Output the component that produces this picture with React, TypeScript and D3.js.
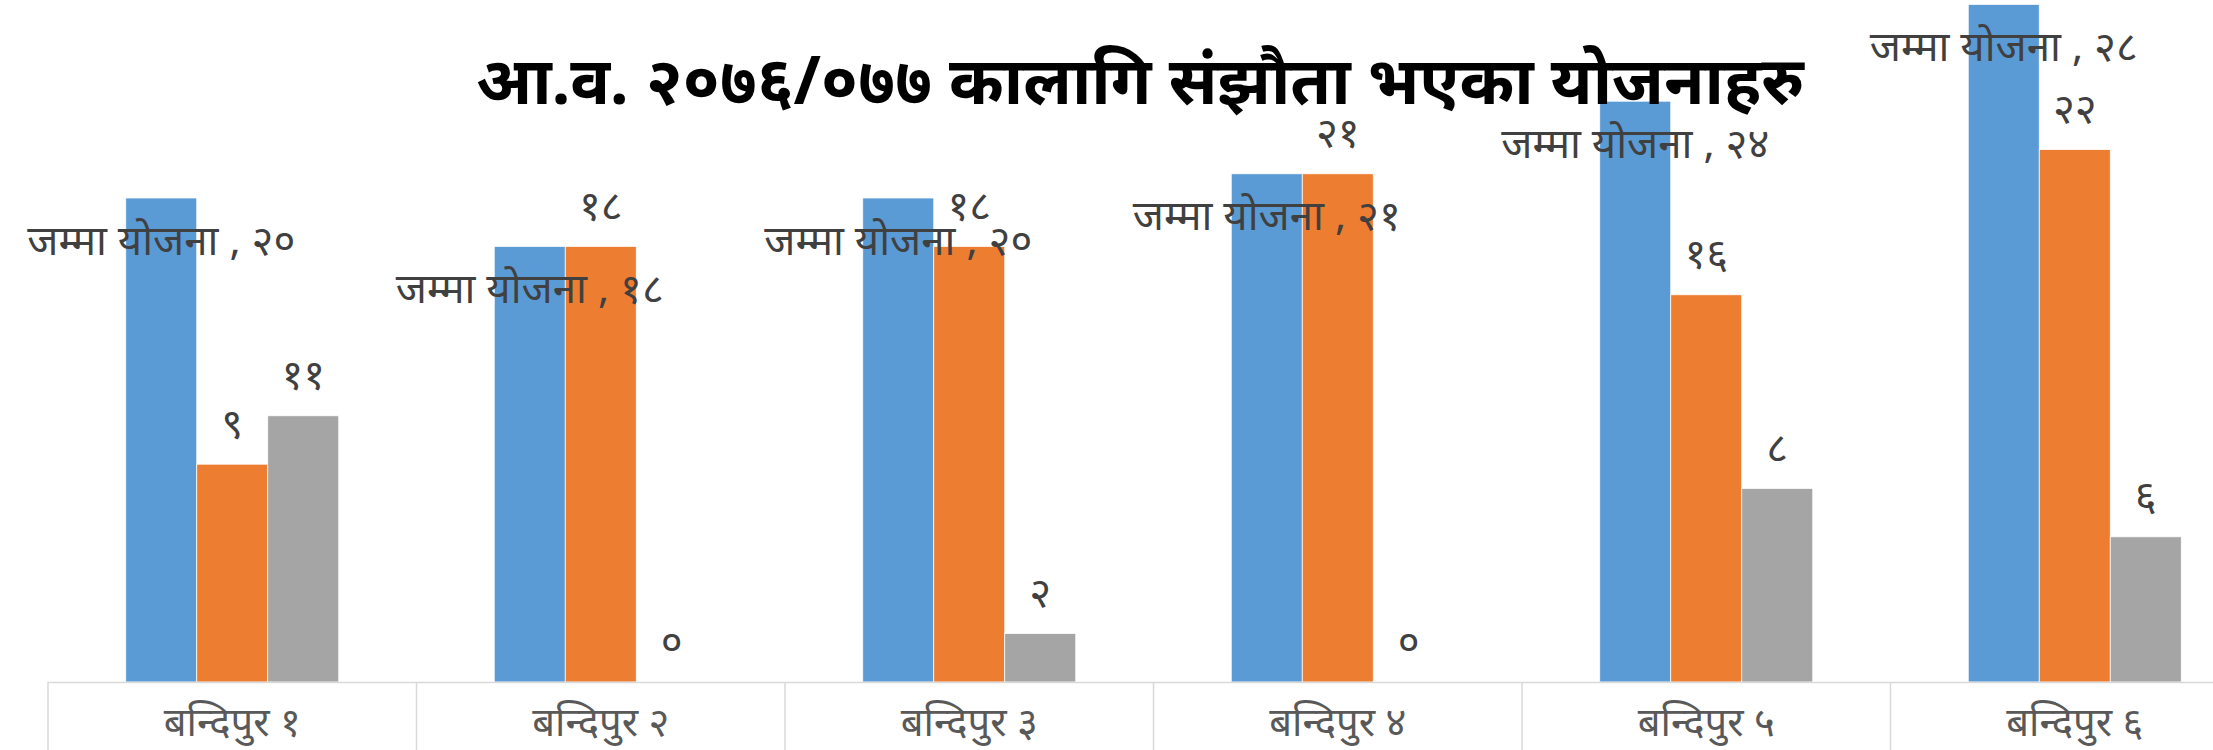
import React, { useEffect, useRef } from "react";
import * as d3 from "d3";

const categories = ["बन्दिपुर १", "बन्दिपुर २", "बन्दिपुर ३", "बन्दिपुर ४", "बन्दिपुर ५", "बन्दिपुर ६"];
const seriesNames = ["जम्मा योजना", "संझौता", "बाँकी"];
const totalPlans = [20, 18, 20, 21, 24, 28];
const agreedPlans = [9, 18, 18, 21, 16, 22];
const remainingPlans = [11, 0, 2, 0, 8, 6];
const devDigits = ["०", "१", "२", "३", "४", "५", "६", "७", "८", "९"];
const title = "आ.व. २०७६/०७७ कालागि संझौता भएका योजनाहरु";

const colors = ["#5B9BD5", "#ED7D31", "#A5A5A5"];
const toDev = (n: number) => String(n).split("").map((c) => devDigits[+c]).join("");

const W = 2213;
const H = 750;
const FONT = "'Noto Sans', 'Noto Sans Devanagari', sans-serif";

const App: React.FC = () => {
  const ref = useRef<SVGSVGElement | null>(null);

  useEffect(() => {
    if (!ref.current) return;
    const svg = d3.select(ref.current);
    svg.selectAll("*").remove();

    const axisY = 682;
    const x0 = d3.scaleBand<string>().domain(categories).range([48, 48 + 6 * 368.5]).padding(0);
    const x1 = d3
      .scaleBand<string>()
      .domain(seriesNames)
      .range([0, x0.bandwidth()])
      .paddingInner(0)
      .paddingOuter(1.095);
    const y = d3.scaleLinear().domain([0, 30]).range([axisY, axisY - 30 * 24.2]);

    const values = [totalPlans, agreedPlans, remainingPlans];

    // bars
    categories.forEach((cat, i) => {
      const g = svg.append("g").attr("transform", `translate(${x0(cat)},0)`);
      seriesNames.forEach((s, j) => {
        const v = values[j][i];
        g.append("rect")
          .attr("x", x1(s)!)
          .attr("y", y(v))
          .attr("width", x1.bandwidth())
          .attr("height", axisY - y(v))
          .attr("fill", colors[j])
          .attr("stroke", "#ffffff")
          .attr("stroke-width", 0.75);
      });
    });

    // axis line and category separators
    svg.append("line")
      .attr("x1", 48).attr("x2", W)
      .attr("y1", axisY + 0.5).attr("y2", axisY + 0.5)
      .attr("stroke", "#d9d9d9").attr("stroke-width", 1.5);
    categories.forEach((cat) => {
      const xx = x0(cat)!;
      svg.append("line")
        .attr("x1", xx).attr("x2", xx)
        .attr("y1", axisY).attr("y2", H)
        .attr("stroke", "#d9d9d9").attr("stroke-width", 1.5);
    });

    // category labels
    svg.append("g")
      .selectAll("text")
      .data(categories)
      .join("text")
      .attr("x", (d) => x0(d)! + x0.bandwidth() / 2)
      .attr("y", 720)
      .attr("dominant-baseline", "central")
      .attr("text-anchor", "middle")
      .attr("font-family", FONT)
      .attr("font-size", 40)
      .attr("fill", "#595959")
      .text((d) => d);

    // data labels
    categories.forEach((cat, i) => {
      seriesNames.forEach((s, j) => {
        const v = values[j][i];
        const cx = x0(cat)! + x1(s)! + x1.bandwidth() / 2;
        const cy = j === 0 ? y(v) + 40 : y(v) - 43;
        svg.append("text")
          .attr("x", cx)
          .attr("y", cy)
          .attr("dominant-baseline", "central")
          .attr("text-anchor", "middle")
          .attr("font-family", FONT)
          .attr("font-size", 42)
          .attr("fill", "#404040")
          .text(j === 0 ? `${s} , ${toDev(v)}` : toDev(v));
      });
    });

    // title
    svg.append("text")
      .attr("x", 1140)
      .attr("y", 78)
      .attr("dominant-baseline", "central")
      .attr("text-anchor", "middle")
      .attr("font-family", FONT)
      .attr("font-size", 66)
      .attr("font-weight", "bold")
      .attr("fill", "#000000")
      .text(title);
  }, []);

  return (
    <svg
      ref={ref}
      width={W}
      height={H}
      style={{ position: "absolute", left: 0, top: 0, background: "#fff", display: "block" }}
    />
  );
};

export default App;
